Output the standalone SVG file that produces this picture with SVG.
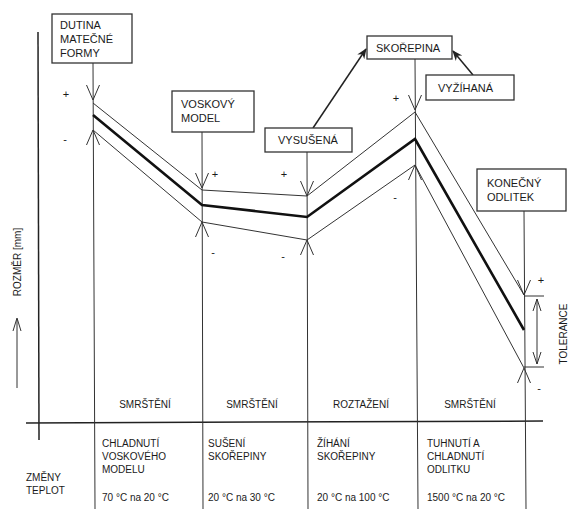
<svg xmlns="http://www.w3.org/2000/svg" xmlns:xlink="http://www.w3.org/1999/xlink" width="569" height="509" viewBox="0 0 569 509">
<style>
text{font-family:"Liberation Sans",Arial,sans-serif;font-size:11px;fill:#1a1a1a}
.box{fill:#fff;stroke:#333;stroke-width:1.3}
.thin{stroke:#333;stroke-width:1;fill:none}
.thick{stroke:#111;stroke-width:2.6;fill:none}
.sep{stroke:#222;stroke-width:1.5;fill:none}
.pm{font-size:11px}
.lbl{font-size:10px}
</style>
<defs>
<path id="vdown" d="M-6.5,-15 L0,0 L6.5,-15" fill="none" stroke="#333" stroke-width="1"/>
<path id="vup" d="M-6.5,15 L0,0 L6.5,15" fill="none" stroke="#333" stroke-width="1"/>
<marker id="ah" viewBox="0 0 10 10" refX="9" refY="5" markerWidth="7" markerHeight="7" orient="auto">
<path d="M0,1 L10,5 L0,9 L3,5 Z" fill="#222"/>
</marker>
</defs>
<rect width="569" height="509" fill="#fff"/>

<g id="axes">
<line class="sep" x1="38" y1="32" x2="39" y2="440"/>
<line class="sep" x1="26" y1="423" x2="543" y2="421"/>
<line class="thin" x1="17" y1="388" x2="17" y2="319"/>
<path d="M13,331 L17,318 L21,331" class="thin"/>
<text class="lbl" transform="translate(21,262) rotate(-90)" text-anchor="middle">ROZMĚR [mm]</text>
<text class="lbl" transform="translate(567,334) rotate(-90)" text-anchor="middle">TOLERANCE</text>
</g>

<g id="connectors">
<line class="thin" x1="93" y1="63" x2="95" y2="509"/>
<line class="thin" x1="202" y1="131" x2="203" y2="509"/>
<line class="thin" x1="307" y1="152" x2="308" y2="509"/>
<line class="thin" x1="415" y1="59" x2="418" y2="509"/>
<line class="thin" x1="524" y1="211" x2="526" y2="509"/>
<polyline class="thin" points="93,103 202,190 307,196 415,112 524,295"/>
<polyline class="thick" points="93,115 202,205 307,217 415,139 524,330"/>
<polyline class="thin" points="93,130 202,222 307,240 415,165 524,368"/>
<use xlink:href="#vdown" x="93" y="100"/>
<use xlink:href="#vup" x="93" y="130"/>
<use xlink:href="#vdown" x="202" y="188"/>
<use xlink:href="#vup" x="202" y="222"/>
<use xlink:href="#vdown" x="307" y="196"/>
<use xlink:href="#vup" x="307" y="240"/>
<use xlink:href="#vdown" x="415" y="110"/>
<use xlink:href="#vup" x="415" y="165"/>
<use xlink:href="#vdown" x="524" y="295"/>
<use xlink:href="#vup" x="524" y="368"/>
<line class="thin" x1="524" y1="296" x2="544" y2="296"/>
<line class="thin" x1="524" y1="367" x2="544" y2="367"/>
<line class="thin" x1="537" y1="299" x2="537" y2="364"/>
<path class="thin" d="M533,311 L537,299 L541,311"/>
<path class="thin" d="M533,352 L537,364 L541,352"/>
<line x1="313" y1="128" x2="366" y2="49" stroke="#222" stroke-width="1.5" marker-end="url(#ah)"/>
<line x1="473" y1="75" x2="453" y2="51" stroke="#222" stroke-width="1.5" marker-end="url(#ah)"/>
</g>

<g id="signs">
<text class="pm" x="66" y="98" text-anchor="middle">+</text>
<text class="pm" x="65" y="143" text-anchor="middle">-</text>
<text class="pm" x="215" y="178" text-anchor="middle">+</text>
<text class="pm" x="213" y="256" text-anchor="middle">-</text>
<text class="pm" x="284" y="178" text-anchor="middle">+</text>
<text class="pm" x="283" y="260" text-anchor="middle">-</text>
<text class="pm" x="396" y="102" text-anchor="middle">+</text>
<text class="pm" x="395" y="201" text-anchor="middle">-</text>
<text class="pm" x="541" y="284" text-anchor="middle">+</text>
<text class="pm" x="539" y="392" text-anchor="middle">-</text>
</g>

<g id="dutina">
<rect class="box" x="52" y="14" width="80" height="49"/>
<text x="60" y="29">DUTINA</text>
<text x="60" y="43">MATEČNÉ</text>
<text x="60" y="57">FORMY</text>
</g>
<g id="voskovy">
<rect class="box" x="172" y="91" width="82" height="41"/>
<text x="181" y="108">VOSKOVÝ</text>
<text x="181" y="122">MODEL</text>
</g>
<g id="vysusena">
<rect class="box" x="265" y="128" width="87" height="24"/>
<text x="278" y="144">VYSUŠENÁ</text>
</g>
<g id="skorepina">
<rect class="box" x="367" y="36" width="85" height="23"/>
<text x="376" y="52">SKOŘEPINA</text>
</g>
<g id="vyzihana">
<rect class="box" x="426" y="75" width="88" height="25"/>
<text x="438" y="92">VYŽÍHANÁ</text>
</g>
<g id="konecny">
<rect class="box" x="477" y="169" width="89" height="42"/>
<text x="487" y="187">KONEČNÝ</text>
<text x="487" y="201">ODLITEK</text>
</g>

<g id="table">
<text class="lbl" x="145" y="408" text-anchor="middle">SMRŠTĚNÍ</text>
<text class="lbl" x="252" y="408" text-anchor="middle">SMRŠTĚNÍ</text>
<text class="lbl" x="361" y="408" text-anchor="middle">ROZTAŽENÍ</text>
<text class="lbl" x="470" y="408" text-anchor="middle">SMRŠTĚNÍ</text>
<text class="lbl" x="102" y="447">CHLADNUTÍ</text>
<text class="lbl" x="102" y="460">VOSKOVÉHO</text>
<text class="lbl" x="102" y="473">MODELU</text>
<text class="lbl" x="102" y="501">70 °C na 20 °C</text>
<text class="lbl" x="208" y="447">SUŠENÍ</text>
<text class="lbl" x="208" y="460">SKOŘEPINY</text>
<text class="lbl" x="208" y="501">20 °C na 30 °C</text>
<text class="lbl" x="317" y="447">ŽÍHÁNÍ</text>
<text class="lbl" x="317" y="460">SKOŘEPINY</text>
<text class="lbl" x="317" y="501">20 °C na 100 °C</text>
<text class="lbl" x="427" y="447">TUHNUTÍ A</text>
<text class="lbl" x="427" y="460">CHLADNUTÍ</text>
<text class="lbl" x="427" y="473">ODLITKU</text>
<text class="lbl" x="427" y="501">1500 °C na 20 °C</text>
<text class="lbl" x="26" y="481">ZMĚNY</text>
<text class="lbl" x="26" y="494">TEPLOT</text>
</g>
</svg>
